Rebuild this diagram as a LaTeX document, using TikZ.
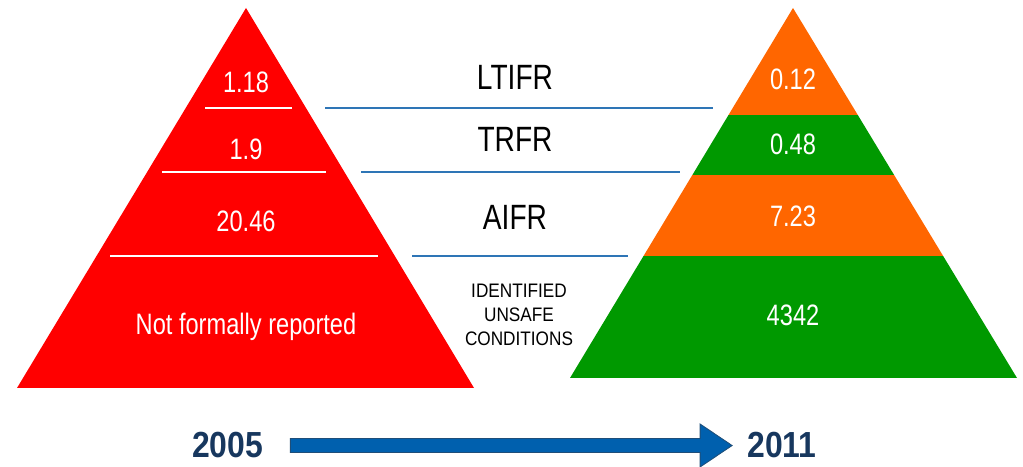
\documentclass[tikz,border=0pt]{standalone}
\usepackage{fontspec}
\setmainfont{Liberation Sans}
\newfontfamily\narrowsf{Liberation Sans}[FakeStretch=0.8]
\newfontfamily\widesf{Liberation Sans}[FakeStretch=0.88]
\usetikzlibrary{calc}
\definecolor{pyrred}{RGB}{255,0,0}
\definecolor{pyrorange}{RGB}{255,102,0}
\definecolor{pyrgreen}{RGB}{0,153,0}
\definecolor{rulecol}{RGB}{46,117,182}
\definecolor{yearcol}{RGB}{23,55,94}
\definecolor{arrowfill}{RGB}{0,96,174}
\definecolor{arrowedge}{RGB}{31,78,121}

\begin{document}
\begin{tikzpicture}[
    value/.style={text=white, inner sep=0pt, anchor=base, font=\narrowsf\fontsize{21}{25}\selectfont},
    metric/.style={text=black, inner sep=0pt, anchor=base, font=\narrowsf\fontsize{25}{30}\selectfont},
    year/.style={text=yearcol, inner sep=0pt, anchor=base, font=\widesf\bfseries\fontsize{25.8}{30}\selectfont},
    split/.style={white, line width=1.1pt},
    rule/.style={rulecol, line width=1.2pt}
  ]
  \useasboundingbox (0,0) rectangle (25.575,11.675);

  % 2005 pyramid
  \fill[pyrred] (6.15,11.475) -- (11.85,1.975) -- (0.425,1.975) -- cycle;
  \draw[split] (5.125,8.975) -- (7.3,8.975);
  \draw[split] (4.05,7.375) -- (8.15,7.375);
  \draw[split] (2.75,5.275) -- (9.45,5.275);
  \node[value] (l1) at (6.15,9.35) {1.18};
  \node[value] (l2) at (6.15,7.675) {1.9};
  \node[value] (l3) at (6.15,5.875) {20.46};
  \node[value] (l4) at (6.15,3.3) {Not formally reported};

  % 2011 pyramid
  \begin{scope}
    \clip (19.825,11.475) -- (25.425,2.225) -- (14.25,2.225) -- cycle;
    \foreach \lo/\hi/\c in {2/5.275/pyrgreen, 5.275/7.3/pyrorange, 7.3/8.8/pyrgreen, 8.8/12/pyrorange}
      \fill[\c] (14,\lo) rectangle (26,\hi);
  \end{scope}
  \node[value] (r1) at (19.825,9.425) {0.12};
  \node[value] (r2) at (19.825,7.8) {0.48};
  \node[value] (r3) at (19.825,6.0) {7.23};
  \node[value] (r4) at (19.825,3.525) {4342};

  % metrics in between
  \draw[rule] (8.125,8.975) -- (17.825,8.975);
  \draw[rule] (9.025,7.375) -- (17.0,7.375);
  \draw[rule] (10.3,5.275) -- (15.7,5.275);
  \node[metric] (ltifr) at (12.875,9.425) {LTIFR};
  \node[metric] (trfr) at (12.875,7.875) {TRFR};
  \node[metric] (aifr) at (12.875,5.925) {AIFR};
  \node[font=\widesf\fontsize{13.9}{17.1}\selectfont, align=center, inner sep=0pt]
    (iuc) at (12.975,3.8) {IDENTIFIED\\UNSAFE\\CONDITIONS};

  % years
  \node[year] (y2005) at (5.69,0.225) {2005};
  \node[year] (y2011) at (19.55,0.225) {2011};
  \coordinate (shaftA) at ($(y2005.east)+(0.675,0)$);
  \coordinate (tipB) at ($(y2011.west)+(-0.375,0)$);
  \draw[arrowedge, fill=arrowfill, line width=0.6pt, line join=miter]
    ($(shaftA)+(0,0.175)$) -- ($(tipB)+(-0.8,0.175)$) -- ($(tipB)+(-0.8,0.5375)$)
    -- (tipB) -- ($(tipB)+(-0.8,-0.5375)$) -- ($(tipB)+(-0.8,-0.175)$)
    -- ($(shaftA)+(0,-0.175)$) -- cycle;
\end{tikzpicture}
\end{document}
